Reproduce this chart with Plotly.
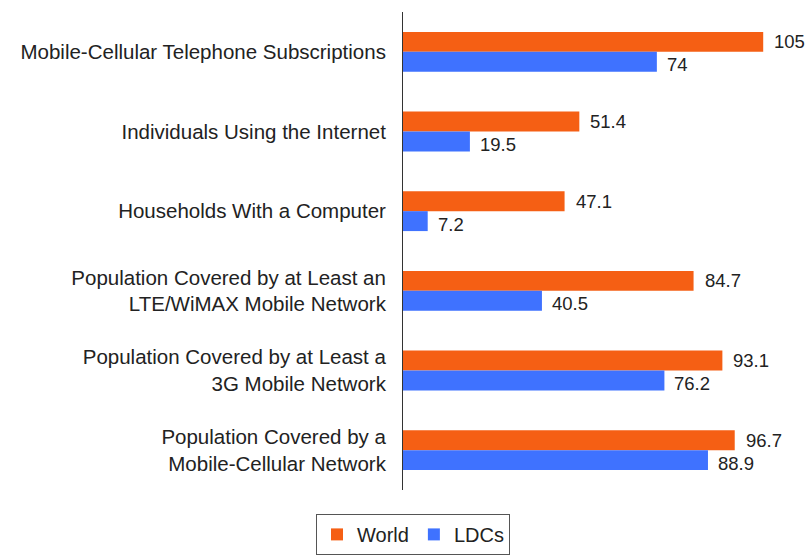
import plotly.graph_objects as go

categories = [
    "Mobile-Cellular Telephone Subscriptions",
    "Individuals Using the Internet",
    "Households With a Computer",
    "Population Covered by at Least an<br>LTE/WiMAX Mobile Network",
    "Population Covered by at Least a<br>3G Mobile Network",
    "Population Covered by a<br>Mobile-Cellular Network",
]
world = [105, 51.4, 47.1, 84.7, 93.1, 96.7]
ldcs = [74, 19.5, 7.2, 40.5, 76.2, 88.9]
world_labels = ["105", "51.4", "47.1", "84.7", "93.1", "96.7"]
ldcs_labels = ["74", "19.5", "7.2", "40.5", "76.2", "88.9"]

ORANGE = "#F55F14"
BLUE = "#3F72FF"
FONT = "Liberation Sans, Arial, sans-serif"

fig = go.Figure()
fig.add_trace(go.Bar(y=categories, x=world, orientation="h", name="World",
                     marker=dict(color=ORANGE, line=dict(width=0))))
fig.add_trace(go.Bar(y=categories, x=ldcs, orientation="h", name="LDCs",
                     marker=dict(color=BLUE, line=dict(width=0))))

for cat, v, t in zip(categories, world, world_labels):
    fig.add_annotation(x=v, y=cat, text=t, showarrow=False, xanchor="left",
                       xshift=9, yshift=10, font=dict(size=18.5, color="#222", family=FONT))
for cat, v, t in zip(categories, ldcs, ldcs_labels):
    fig.add_annotation(x=v, y=cat, text=t, showarrow=False, xanchor="left",
                       xshift=8, yshift=-13, font=dict(size=18.5, color="#222", family=FONT))

fig.update_layout(
    width=811, height=556,
    margin=dict(l=403, r=8, t=12, b=66, autoexpand=False),
    paper_bgcolor="white", plot_bgcolor="white",
    barmode="group", bargap=0.5, bargroupgap=0,
    font=dict(family=FONT, size=20, color="#222"),
    showlegend=True,
    legend=dict(orientation="h", x=0.025, xanchor="center",
                y=-0.05, yanchor="top", bordercolor="#555", borderwidth=1,
                font=dict(size=20, color="#222", family=FONT)),
    xaxis=dict(range=[0, 116.6], showgrid=False, showticklabels=False,
               zeroline=False, showline=False, ticks="", automargin=False),
    yaxis=dict(autorange="reversed", showgrid=False, showline=True,
               linecolor="#333", linewidth=1, ticks="", ticklen=0,
               automargin=False, ticklabelstandoff=12,
               tickfont=dict(size=20.5, color="#222", family=FONT)),
)

fig.write_html("out.html", config={"displayModeBar": False},
               post_script="document.body.style.margin='0';")
